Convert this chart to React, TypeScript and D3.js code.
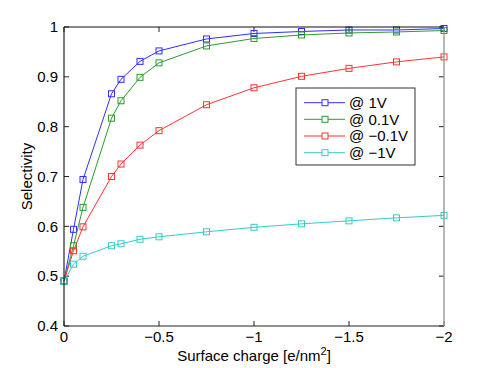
import React from "react";
import * as d3 from "d3";

const charges = [0, -0.05, -0.1, -0.25, -0.3, -0.4, -0.5, -0.75, -1, -1.25, -1.5, -1.75, -2];
const sel1V = [0.49, 0.594, 0.694, 0.866, 0.895, 0.931, 0.952, 0.976, 0.987, 0.991, 0.994, 0.994, 0.997];
const sel01V = [0.49, 0.561, 0.638, 0.817, 0.852, 0.899, 0.928, 0.962, 0.977, 0.984, 0.988, 0.99, 0.993];
const selm01V = [0.49, 0.551, 0.599, 0.7, 0.725, 0.763, 0.792, 0.844, 0.878, 0.901, 0.917, 0.93, 0.94];
const selm1V = [0.489, 0.524, 0.54, 0.561, 0.565, 0.574, 0.579, 0.589, 0.598, 0.605, 0.611, 0.617, 0.622];
const seriesNames = ["@ 1V", "@ 0.1V", "@ \u22120.1V", "@ \u22121V"];
const seriesColors = ["#2e2eff", "#2f9a2f", "#ff3333", "#33cccc"];
const xTicks = [0, -0.5, -1, -1.5, -2];
const yTicks = [0.4, 0.5, 0.6, 0.7, 0.8, 0.9, 1];

const W = 491, H = 368;
const L = 64, R = 444, T = 27, B = 326;
const FONT = "'Liberation Sans', Arial, sans-serif";

function fmt(v: number): string {
  const s = String(Math.abs(v));
  return v < 0 ? "\u2212" + s : s;
}

export default function App() {
  const x = d3.scaleLinear().domain([0, -2]).range([L, R]);
  const y = d3.scaleLinear().domain([0.4, 1]).range([B, T]);
  const allSeries = [sel1V, sel01V, selm01V, selm1V];
  const line = d3
    .line<[number, number]>()
    .x((d) => x(d[0]))
    .y((d) => y(d[1]));
  const ms = 6;
  const tl = 5;

  const legX = 296, legY = 88, legW = 119, legH = 77;
  const rowY = [102.7, 119.3, 136, 152.7];

  return (
    <svg width={W} height={H} style={{ position: "absolute", left: 0, top: 0, background: "#fff" }} fontFamily={FONT}>
      <rect x={0} y={0} width={W} height={H} fill="#fff" />
      {/* ticks */}
      {xTicks.map((t) => (
        <g key={"xt" + t}>
          <line x1={x(t)} x2={x(t)} y1={B} y2={B - tl} stroke="#222" strokeWidth={1} />
          <line x1={x(t)} x2={x(t)} y1={T} y2={T + tl} stroke="#222" strokeWidth={1} />
          <text x={x(t)} y={342} textAnchor="middle" fontSize={15} fill="#000">
            {fmt(t)}
          </text>
        </g>
      ))}
      {yTicks.map((t) => (
        <g key={"yt" + t}>
          <line x1={L} x2={L + tl} y1={y(t)} y2={y(t)} stroke="#222" strokeWidth={1} />
          <line x1={R} x2={R - tl} y1={y(t)} y2={y(t)} stroke="#222" strokeWidth={1} />
          <text x={58} y={y(t)} dy="0.35em" textAnchor="end" fontSize={15} fill="#000">
            {String(t)}
          </text>
        </g>
      ))}
      {/* data */}
      {allSeries.map((vals, i) => {
        const pts: [number, number][] = charges.map((c, j) => [c, vals[j]]);
        return (
          <g key={"s" + i}>
            <path d={line(pts) || ""} fill="none" stroke={seriesColors[i]} strokeWidth={1} />
            {pts.map((p, j) => (
              <rect
                key={j}
                x={x(p[0]) - ms / 2}
                y={y(p[1]) - ms / 2}
                width={ms}
                height={ms}
                fill="none"
                stroke={seriesColors[i]}
                strokeWidth={1}
              />
            ))}
          </g>
        );
      })}
      {/* box */}
      <line x1={L} x2={R} y1={T} y2={T} stroke="#111" strokeWidth={1.2} />
      <line x1={L} x2={R} y1={B} y2={B} stroke="#222" strokeWidth={1.2} />
      <line x1={L} x2={L} y1={T} y2={B} stroke="#222" strokeWidth={1.2} />
      <line x1={R} x2={R} y1={T} y2={B} stroke="#999" strokeWidth={1.4} />
      {/* labels */}
      <text x={(L + R) / 2} y={361} textAnchor="middle" fontSize={15} fill="#000">
        Surface charge [e/nm
        <tspan dy={-6} fontSize={11}>2</tspan>
        <tspan dy={6}>]</tspan>
      </text>
      <text
        transform={`translate(32,${(T + B) / 2}) rotate(-90)`}
        textAnchor="middle"
        fontSize={15}
        fill="#000"
      >
        Selectivity
      </text>
      {/* legend */}
      <rect x={legX} y={legY} width={legW} height={legH} fill="#fff" stroke="#333" strokeWidth={1} />
      {seriesNames.map((n, i) => (
        <g key={"lg" + i}>
          <line x1={304} x2={345} y1={rowY[i]} y2={rowY[i]} stroke={seriesColors[i]} strokeWidth={1} />
          <rect x={325 - ms / 2} y={rowY[i] - ms / 2} width={ms} height={ms} fill="#fff" stroke={seriesColors[i]} strokeWidth={1} />
          <text x={349} y={rowY[i]} dy="0.36em" fontSize={15} fill="#000">
            {n}
          </text>
        </g>
      ))}
    </svg>
  );
}
